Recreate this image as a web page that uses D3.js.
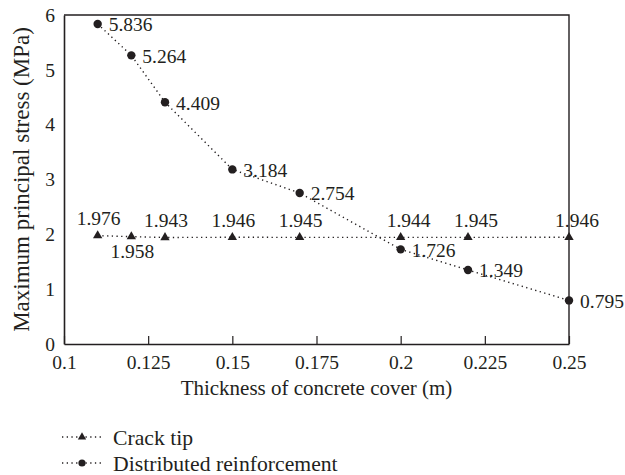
<!DOCTYPE html>
<html>
<head>
<meta charset="utf-8">
<script src="https://cdn.jsdelivr.net/npm/d3@7"></script>
<style>
  html, body { margin: 0; padding: 0; background: #fff; }
  svg { display: block; }
</style>
</head>
<body>
<svg id="chart" width="625" height="475"></svg>
<script>
// Concrete cover thickness (m)
const thickness = [0.11, 0.12, 0.13, 0.15, 0.17, 0.2, 0.22, 0.25];
// Maximum principal stress (MPa)
const crackTip = [1.976, 1.958, 1.943, 1.946, 1.945, 1.944, 1.945, 1.946];
const distributed = [5.836, 5.264, 4.409, 3.184, 2.754, 1.726, 1.349, 0.795];
const xTicks = [0.1, 0.125, 0.15, 0.175, 0.2, 0.225, 0.25];
const yTicks = [0, 1, 2, 3, 4, 5, 6];
const seriesNames = ["Crack tip", "Distributed reinforcement"];

const ink = "#231f20";
const FONT = "'Liberation Serif'";
const margin = { left: 64, right: 56, top: 15, bottom: 131 };
const W = 625, H = 475;
const svg = d3.select("#chart");

const x = d3.scaleLinear().domain([0.1, 0.25]).range([margin.left, W - margin.right]);
const y = d3.scaleLinear().domain([0, 6]).range([H - margin.bottom, margin.top]);

const fmtX = d => String(+d.toFixed(3));

function txt(sel, size) {
  return sel.style("font-family", FONT).attr("font-size", size).attr("fill", ink);
}

// Frame (top and right edges)
svg.append("path")
  .attr("d", `M${x(0.1)},${y(6)}H${x(0.25)}V${y(0)}`)
  .attr("fill", "none").attr("stroke", ink).attr("stroke-width", 1.4);

// X axis with inward ticks
const gx = svg.append("g").attr("transform", `translate(0,${y(0)})`)
  .call(d3.axisBottom(x).tickValues(xTicks).tickSize(0).tickPadding(11).tickFormat(fmtX));
gx.select(".domain").attr("stroke", ink).attr("stroke-width", 1.6);
gx.selectAll(".tick line").attr("y2", -8).attr("stroke", ink).attr("stroke-width", 1.2);
txt(gx.selectAll(".tick text"), 19.5);

// Y axis (no tick marks)
const gy = svg.append("g").attr("transform", `translate(${x(0.1)},0)`)
  .call(d3.axisLeft(y).tickValues(yTicks).tickSize(0).tickPadding(9).tickFormat(d3.format("d")));
gy.select(".domain").attr("stroke", ink).attr("stroke-width", 1.6);
txt(gy.selectAll(".tick text"), 19.5);

// Axis titles
txt(svg.append("text").attr("x", (x(0.1) + x(0.25)) / 2).attr("y", 395)
  .attr("text-anchor", "middle"), 21)
  .text("Thickness of concrete cover (m)");
txt(svg.append("text")
  .attr("transform", `translate(29,${(y(0) + y(6)) / 2}) rotate(-90)`)
  .attr("text-anchor", "middle"), 23)
  .text("Maximum principal stress (MPa)");

const line = d3.line().x(d => x(d[0])).y(d => y(d[1]));
const dotted = { stroke: ink, "stroke-width": 1.4, "stroke-dasharray": "1.3,3.4", fill: "none" };
const tri = d3.symbol().type(d3.symbolTriangle).size(38);

const crackPts = thickness.map((t, i) => [t, crackTip[i]]);
const distPts = thickness.map((t, i) => [t, distributed[i]]);

function styled(sel, attrs) { Object.entries(attrs).forEach(([k, v]) => sel.attr(k, v)); return sel; }

// Series lines
styled(svg.append("path").datum(crackPts).attr("d", line), dotted);
styled(svg.append("path").datum(distPts).attr("d", line), dotted);

// Markers
svg.append("g").selectAll("path").data(crackPts).join("path")
  .attr("d", tri).attr("fill", ink)
  .attr("transform", d => `translate(${x(d[0])},${y(d[1])})`);
svg.append("g").selectAll("circle").data(distPts).join("circle")
  .attr("cx", d => x(d[0])).attr("cy", d => y(d[1])).attr("r", 4.2).attr("fill", ink);

// Value labels: crack tip above its markers (second one below), reinforcement to the right
const fmtV = d3.format(",.3f");
txt(svg.append("g").selectAll("text").data(crackPts).join("text"), 19.5)
  .attr("x", d => x(d[0]) + (d[0] > 0.19 ? 8 : 1))
  .attr("y", (d, i) => i === 1 ? y(d[1]) + 21 : y(d[1]) - 10.5)
  .attr("text-anchor", "middle")
  .text(d => fmtV(d[1]));
txt(svg.append("g").selectAll("text").data(distPts).join("text"), 19.5)
  .attr("x", d => x(d[0]) + 11)
  .attr("y", d => y(d[1]) + 7.3)
  .text(d => fmtV(d[1]));

// Legend
const legend = svg.append("g");
[0, 1].forEach(i => {
  const ly = 437 + i * 26;
  styled(legend.append("line").attr("x1", 62).attr("x2", 103).attr("y1", ly).attr("y2", ly), dotted);
  if (i === 0) {
    legend.append("path").attr("d", d3.symbol().type(d3.symbolTriangle).size(30))
      .attr("fill", ink).attr("transform", `translate(82,${ly})`);
  } else {
    legend.append("circle").attr("cx", 82).attr("cy", ly).attr("r", 3.6).attr("fill", ink);
  }
  txt(legend.append("text").attr("x", 113).attr("y", ly + 7.5), 21.7).text(seriesNames[i]);
});
</script>
</body>
</html>
